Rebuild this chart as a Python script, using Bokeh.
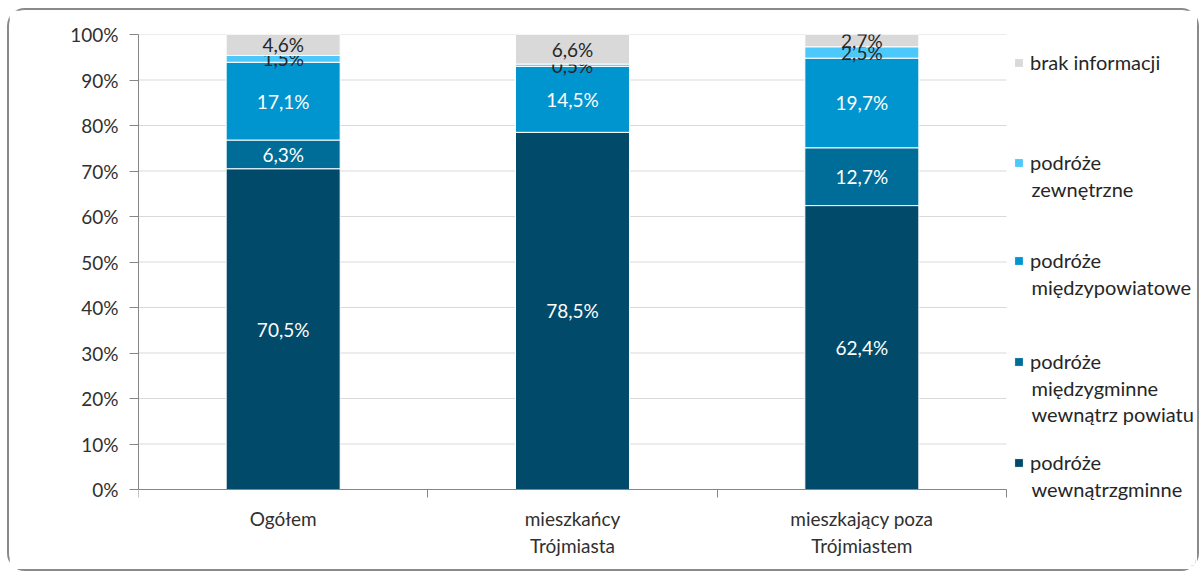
from bokeh.plotting import figure
from bokeh.models import FixedTicker, Legend, LegendItem, Range1d, PrintfTickFormatter
from bokeh.embed import file_html
from bokeh.resources import INLINE
from bokeh.core.properties import value

categories = ["Ogółem", "mieszkańcy\nTrójmiasta", "mieszkający poza\nTrójmiastem"]
series_names = ["podróże\nwewnątrzgminne", "podróże\nmiędzygminne\nwewnątrz powiatu",
                "podróże\nmiędzypowiatowe", "podróże\nzewnętrzne", "brak informacji"]
wewnatrzgminne = [70.5, 78.5, 62.4]
miedzygminne = [6.3, 0.0, 12.7]
miedzypowiatowe = [17.1, 14.5, 19.7]
zewnetrzne = [1.5, 0.5, 2.5]
brak_informacji = [4.6, 6.6, 2.7]
y_ticks = [0, 10, 20, 30, 40, 50, 60, 70, 80, 90, 100]

series = [wewnatrzgminne, miedzygminne, miedzypowiatowe, zewnetrzne, brak_informacji]
colors = ["#024a69", "#006c98", "#0095cf", "#4cc8fb", "#d9d9d9"]
label_colors = ["white", "white", "white", "#262626", "#262626"]

FONT = "Lato"
NCAT = len(categories)
FRAME_W, BAR_W = 1057, 868          # frame width vs. width of the bar area (px)
PX_X = BAR_W / NCAT                 # px per x unit
PX_Y = 455 / 100                    # px per y unit
ZERO_PX = 489                       # page y of the 0% line
FRAME_BOTTOM_PX = 565               # frame extends below 0% for axis labels / legend text
Y_MIN = -(FRAME_BOTTOM_PX - ZERO_PX) / PX_Y
X_MAX = NCAT * FRAME_W / BAR_W      # extra room on the right for the legend

p = figure(width=1192, height=563, output_backend="svg", toolbar_location=None,
           x_range=Range1d(0, X_MAX), y_range=Range1d(Y_MIN, 100),
           min_border_left=129, min_border_right=6, min_border_top=24,
           min_border_bottom=573 - FRAME_BOTTOM_PX)
p.margin = (8, 0, 0, 7)
p.styles = {"border": "2px solid #8a8a8a", "border-radius": "18px"}
p.outline_line_color = None
p.background_fill_color = "white"

# horizontal gridlines limited to the bar area
p.segment(x0=[0] * len(y_ticks), x1=[NCAT] * len(y_ticks), y0=y_ticks, y1=y_ticks,
          line_color="#d9d9d9", line_width=1)

xs = [i + 0.5 for i in range(NCAT)]
bottoms = [0.0] * NCAT
renderers = []
for vals, col, lcol in zip(series, colors, label_colors):
    tops = [b + v for b, v in zip(bottoms, vals)]
    r = p.vbar(x=xs, width=0.394, bottom=bottoms, top=tops, fill_color=col,
               line_color="white", line_width=1)
    renderers.append(r)
    lx, ly, lt = [], [], []
    for x, b, v in zip(xs, bottoms, vals):
        if v > 0:
            lx.append(x)
            ly.append(b + v / 2)
            lt.append(f"{v:.1f}%".replace(".", ","))
    p.text(x=lx, y=ly, text=lt, text_align="center", text_baseline="middle",
           text_font=value(FONT), text_font_size="19px", text_color=lcol)
    bottoms = tops

# axes
p.xaxis.fixed_location = 0
p.xaxis.bounds = (0, NCAT)
p.xaxis.ticker = FixedTicker(ticks=xs, minor_ticks=list(range(NCAT + 1)))
p.xaxis.major_label_overrides = {x: c for x, c in zip(xs, categories)}
p.xaxis.major_tick_out = 0
p.xaxis.major_tick_in = 0
p.xaxis.minor_tick_out = 8
p.xaxis.minor_tick_in = 0
p.xaxis.minor_tick_line_color = "#868686"
p.xaxis.axis_line_color = "#868686"
p.xaxis.major_label_text_font = FONT
p.xaxis.major_label_text_font_size = "19px"
p.xaxis.major_label_text_color = "#303030"
p.xaxis.major_label_standoff = 9

p.yaxis.bounds = (0, 100)
p.yaxis.ticker = FixedTicker(ticks=y_ticks, minor_ticks=[])
p.yaxis.formatter = PrintfTickFormatter(format="%d%%")
p.yaxis.major_tick_out = 9
p.yaxis.major_tick_in = 0
p.yaxis.major_tick_line_color = "#868686"
p.yaxis.axis_line_color = "#868686"
p.yaxis.major_label_text_font = FONT
p.yaxis.major_label_text_font_size = "19px"
p.yaxis.major_label_text_color = "#303030"
p.yaxis.major_label_standoff = 11

p.xgrid.grid_line_color = None
p.ygrid.grid_line_color = None

# legend: one Legend per item (first line), continuation lines as text
LEG_FS = 20
LINE_H = 26
legend_centers = [462, 361, 260, 162, 62]   # page y of the first line of each item
glyph_left = 875                            # px from left of frame
text_x = (glyph_left + 18) / PX_X
for name, r, cy in zip(series_names, renderers, legend_centers):
    lines = name.split("\n")
    lg = Legend(items=[LegendItem(label=lines[0], renderers=[r])],
                location=(glyph_left, FRAME_BOTTOM_PX - cy - 12),
                label_text_font=FONT, label_text_font_size=f"{LEG_FS}px",
                label_text_color="#262626", label_height=24,
                glyph_width=11, glyph_height=11, label_standoff=6, padding=0, margin=0,
                border_line_alpha=0, background_fill_alpha=0)
    p.add_layout(lg)
    if len(lines) > 1:
        ty = [(ZERO_PX - (cy + LINE_H * k)) / PX_Y for k in range(1, len(lines))]
        p.text(x=[text_x] * len(ty), y=ty, text=lines[1:], text_align="left",
               text_baseline="middle", text_font=value(FONT),
               text_font_size=f"{LEG_FS}px", text_color="#262626")

open("out.html", "w").write(file_html(p, INLINE))
